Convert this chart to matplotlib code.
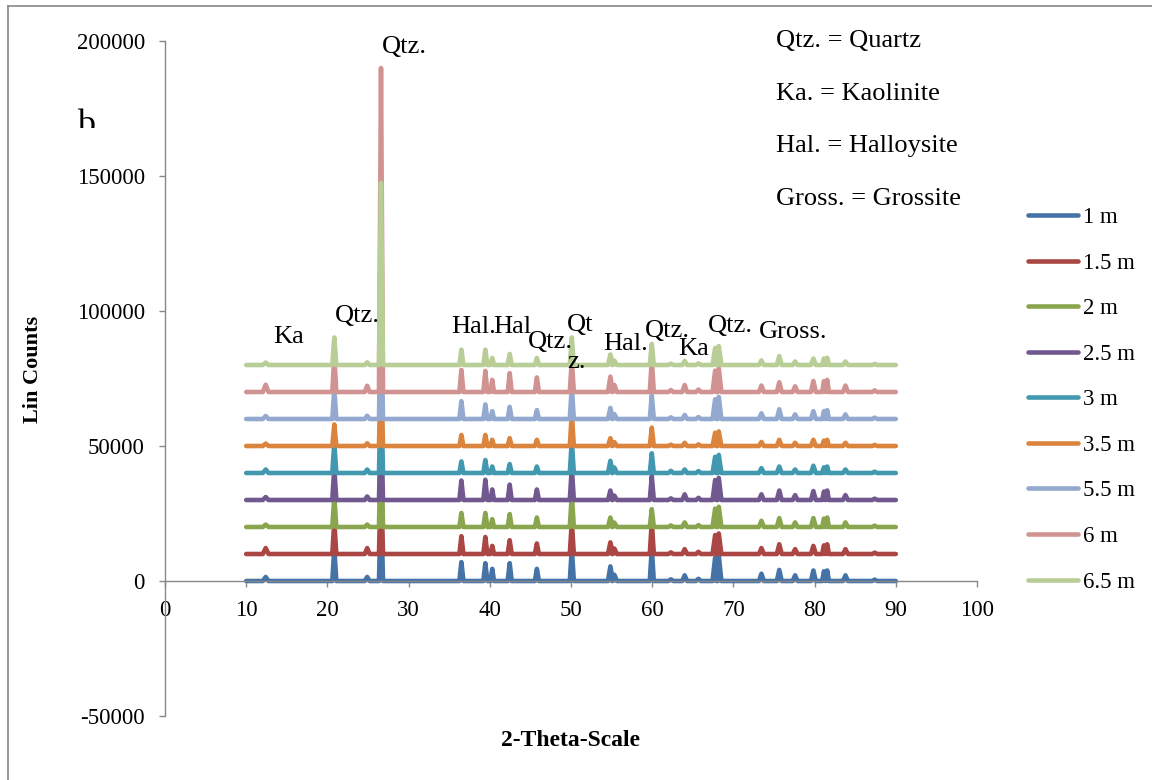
import numpy as np
import matplotlib
matplotlib.use("Agg")
import matplotlib.pyplot as plt
from matplotlib.lines import Line2D
from matplotlib.patches import Rectangle

plt.rcParams['font.family'] = ['Liberation Serif', 'DejaVu Serif']
plt.rcParams['axes.unicode_minus'] = False

# sample depths (legend) and their offset in the stacked plot
depths = ["1 m", "1.5 m", "2 m", "2.5 m", "3 m", "3.5 m", "5.5 m", "6 m", "6.5 m"]
offsets = [0, 10000, 20000, 30000, 40000, 50000, 60000, 70000, 80000]
colors = ["#4572A7", "#AA4643", "#89A54E", "#71588F", "#4198AF",
          "#DB843D", "#93A9CF", "#D19392", "#B9CD96"]

# peak positions (2-theta) and half widths
peak_pos = [12.4, 20.85, 24.9, 26.6, 36.5, 39.45, 40.3, 42.45, 45.8, 50.1,
            54.85, 55.35, 59.95, 62.3, 64.0, 65.7, 67.75, 68.2, 73.45, 75.65,
            77.6, 79.85, 81.15, 81.55, 83.8, 87.4]
peak_hw = [0.35, 0.25, 0.3, 0.25, 0.25, 0.25, 0.22, 0.25, 0.25, 0.25,
           0.3, 0.3, 0.25, 0.3, 0.3, 0.3, 0.32, 0.32, 0.3, 0.3,
           0.3, 0.3, 0.22, 0.22, 0.3, 0.3]

# peak heights above each pattern's baseline (lin counts)
h_1m = [1500, 12000, 1500, 30000, 7000, 6600, 4500, 6600, 4500, 12000, 5400, 2300, 12000, 600, 2100, 800, 8600, 9400, 2700, 4100, 2100, 3900, 3600, 3900, 2100, 500]
h_1_5m = [2200, 12000, 2200, 28000, 6600, 6300, 3000, 5100, 3900, 12000, 4300, 2000, 12000, 600, 1800, 800, 7000, 7600, 2200, 3600, 1800, 3000, 3200, 3600, 1800, 500]
h_2m = [900, 11000, 900, 35000, 5200, 5200, 2900, 4800, 3500, 12000, 3500, 1600, 6600, 600, 1700, 700, 6800, 7500, 2300, 3300, 1700, 3300, 3100, 3500, 1700, 500]
h_2_5m = [1100, 12000, 1300, 30000, 7200, 7500, 3900, 5700, 3900, 12000, 3500, 1600, 8800, 600, 2100, 800, 7400, 8200, 2100, 3500, 1800, 3300, 3100, 3500, 1800, 500]
h_3m = [1300, 11000, 1300, 32000, 4300, 4800, 2400, 3300, 2400, 12000, 4500, 2000, 7300, 800, 1300, 700, 6000, 6700, 1800, 2400, 1300, 2700, 2100, 2400, 1300, 500]
h_3_5m = [900, 8000, 1000, 30000, 4100, 4100, 2300, 2900, 2300, 12000, 2900, 1400, 6800, 500, 1200, 600, 4900, 5400, 1500, 2300, 1200, 2300, 2000, 2300, 1200, 400]
h_5_5m = [1100, 11000, 1200, 40000, 6600, 5400, 2900, 4500, 3300, 12000, 4100, 1800, 8800, 600, 1500, 700, 7300, 8200, 2100, 3600, 1700, 2900, 2900, 3300, 1700, 500]
h_6m = [2700, 13000, 2300, 120000, 8200, 7800, 4500, 7000, 5400, 12000, 5700, 2600, 12000, 700, 2600, 900, 7900, 8800, 2400, 3600, 2100, 4100, 4000, 4500, 2400, 600]
h_6_5m = [900, 10200, 1000, 67500, 5700, 5700, 2600, 4100, 2600, 10200, 3900, 1600, 7800, 500, 1500, 600, 6300, 7000, 1700, 3300, 1300, 2400, 2400, 2700, 1300, 400]
heights = [h_1m, h_1_5m, h_2m, h_2_5m, h_3m, h_3_5m, h_5_5m, h_6m, h_6_5m]

# phase labels over the peaks: (text, 2-theta, counts) - left/baseline anchored
peak_labels = [("Ka", 13.3, 88100), ("Qtz.", 20.9, 96000), ("Qtz.", 26.7, 195400),
               ("Hal.", 35.3, 91700), ("Hal", 40.4, 91700), ("Qtz.", 44.7, 86200),
               ("Qt", 49.5, 92700), ("z.", 49.5, 78800), ("Hal.", 54.0, 85600),
               ("Qtz.", 59.1, 90500), ("Ka", 63.2, 83600), ("Qtz.", 66.9, 92300),
               ("Gross.", 73.1, 89900)]
key_labels = ["Qtz. = Quartz", "Ka. = Kaolinite", "Hal. = Halloysite", "Gross. = Grossite"]
key_y = [197900, 178100, 159000, 139300]


def pattern(hts, base):
    xs = [10]
    ys = [base]
    for p, w, h in zip(peak_pos, peak_hw, hts):
        xs += [p - w, p, p + w]
        ys += [base, base + h, base]
    xs.append(90)
    ys.append(base)
    return xs, ys


fig = plt.figure(figsize=(11.52, 7.8), dpi=100)
ax = fig.add_axes([165 / 1152, 1 - 716 / 780, 812 / 1152, 675 / 780])

for name, base, hts, c in zip(depths, offsets, heights, colors):
    xs, ys = pattern(hts, base)
    ax.plot(xs, ys, color=c, lw=3.3, label=name,
            solid_capstyle='round', solid_joinstyle='round')

ax.set_xlim(0, 100)
ax.set_ylim(-50000, 200000)
ax.set_xticks(np.arange(0, 101, 10))
ax.set_yticks(np.arange(-50000, 200001, 50000))

axcol = "#888888"
ax.spines['top'].set_visible(False)
ax.spines['right'].set_visible(False)
ax.spines['bottom'].set_position(('data', 0))
for s in ['left', 'bottom']:
    ax.spines[s].set_color(axcol)
    ax.spines[s].set_linewidth(1.0)
ax.tick_params(direction='out', length=4.5, width=1.0, color=axcol,
               labelsize=16.5, labelcolor='black')
ax.tick_params(axis='y', pad=10)
ax.tick_params(axis='x', pad=9)

ax.set_ylabel("Lin Counts", fontsize=16, fontweight='bold', va='center')
ax.yaxis.set_label_coords(-0.163, 0.513)
ax.set_xlabel("2-Theta-Scale", fontsize=17, fontweight='bold', va='center')
ax.xaxis.set_label_coords(0.5, -0.036)

for txt, x, y in peak_labels:
    ax.text(x, y, txt, fontsize=19, ha='left', va='baseline')
for txt, y in zip(key_labels, key_y):
    ax.text(75.3, y, txt, fontsize=19, ha='left', va='baseline')

# panel letter, cut off at the bottom as in the original
b = fig.text(77 / 1152, 1 - 134 / 780, "b", fontsize=26, ha='left', va='baseline')
b.set_clip_path(Rectangle((0, 1 - 128 / 780), 1, 1, transform=fig.transFigure))

leg = ax.legend(loc='upper left', bbox_to_anchor=(1028 / 1152, 1 - 207 / 780),
                bbox_transform=fig.transFigure, frameon=False, fontsize=16.5,
                handlelength=2.2, handletextpad=0.2, labelspacing=1.07,
                borderpad=0, borderaxespad=0)

# outer chart border (left and top edges visible)
fig.add_artist(Line2D([8 / 1152, 8 / 1152], [0, 1 - 6 / 780], color="#888888", lw=1.2))
fig.add_artist(Line2D([8 / 1152, 1], [1 - 6 / 780, 1 - 6 / 780], color="#888888", lw=1.2))

fig.savefig("out.png", dpi=100)
